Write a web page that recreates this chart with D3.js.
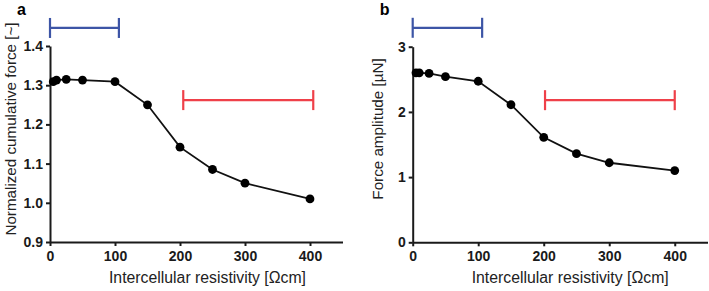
<!DOCTYPE html>
<html>
<head>
<meta charset="utf-8">
<script src="https://cdn.jsdelivr.net/npm/d3@7"></script>
<style>
  body { margin: 0; background: #fff; }
  svg { display: block; font-family: "Liberation Sans", Arial, sans-serif; }
  .tick text { font-weight: bold; font-size: 14px; fill: #1a1a1a; }
  .domain, .tick line { stroke: #1a1a1a; stroke-width: 2; }
</style>
</head>
<body>
<div class="chart"></div>
<script>
// shared x values (intercellular resistivity, Ωcm)
const resistivity = [5, 10, 25, 50, 100, 150, 200, 250, 300, 400]

// panel a: normalized cumulative force
const cumForce = [1.309, 1.313, 1.315, 1.313, 1.309, 1.250, 1.142, 1.085, 1.050, 1.010]
const cumForceTicks = [0.9, 1.0, 1.1, 1.2, 1.3, 1.4]
const cumForceRanges = [
    { from: 0, to: 106, level: 1.446, kind: 'blue' },
    { from: 205, to: 405, level: 1.262, kind: 'red' }
]

// panel b: force amplitude
const forceAmp = [2.60, 2.60, 2.59, 2.54, 2.47, 2.11, 1.61, 1.36, 1.22, 1.10]
const forceAmpTicks = [0, 1, 2, 3]
const forceAmpRanges = [
    { from: 0, to: 106, level: 3.29, kind: 'blue' },
    { from: 202, to: 400, level: 2.18, kind: 'red' }
]

const xTicks = [0, 100, 200, 300, 400]

const width = 709, height = 291
const rangeColor = { blue: '#3d55a6', red: '#ef4049' }

const svg = d3.select('.chart')
    .append('svg')
    .attr('width', width)
    .attr('height', height)

const drawPanel = ({ letter, values, yDomain, yTicks, yFormat, ranges, yTitle, left, right, top, bottom, titleX }) => {

    const g = svg.append('g')

    const x = d3.scaleLinear()
        .domain([0, 450])
        .range([left, right])

    const y = d3.scaleLinear()
        .domain(yDomain)
        .range([bottom, top])

    g.append('g')
        .attr('transform', `translate(0,${bottom})`)
        .call(d3.axisBottom(x).tickValues(xTicks).tickSize(4).tickSizeOuter(0).tickPadding(5))

    g.append('g')
        .attr('transform', `translate(${left},0)`)
        .call(d3.axisLeft(y).tickValues(yTicks).tickFormat(yFormat).tickSize(4).tickSizeOuter(0).tickPadding(3))

    // ranges drawn as horizontal brackets
    const rg = g.selectAll('.range')
        .data(ranges)
        .join('g')
        .attr('stroke', d => rangeColor[d.kind])
        .attr('stroke-width', 2.2)

    rg.append('line')
        .attr('x1', d => x(d.from)).attr('x2', d => x(d.to))
        .attr('y1', d => y(d.level)).attr('y2', d => y(d.level))
    rg.append('line')
        .attr('x1', d => x(d.from)).attr('x2', d => x(d.from))
        .attr('y1', d => y(d.level) - 10).attr('y2', d => y(d.level) + 10)
    rg.append('line')
        .attr('x1', d => x(d.to)).attr('x2', d => x(d.to))
        .attr('y1', d => y(d.level) - 10).attr('y2', d => y(d.level) + 10)

    const pts = resistivity.map((r, i) => [r, values[i]])

    g.append('path')
        .datum(pts)
        .attr('fill', 'none')
        .attr('stroke', '#111')
        .attr('stroke-width', 1.8)
        .attr('d', d3.line().x(d => x(d[0])).y(d => y(d[1])))

    g.selectAll('.dot')
        .data(pts)
        .join('circle')
        .attr('cx', d => x(d[0]))
        .attr('cy', d => y(d[1]))
        .attr('r', 4.4)
        .attr('fill', '#000')

    g.append('text')
        .attr('x', left + 157.5)
        .attr('y', 283)
        .attr('text-anchor', 'middle')
        .attr('font-size', 15.8)
        .attr('fill', '#222')
        .text('Intercellular resistivity [Ωcm]')

    g.append('text')
        .attr('transform', `translate(${titleX},129) rotate(-90)`)
        .attr('text-anchor', 'middle')
        .attr('font-size', 15.2)
        .attr('fill', '#222')
        .text(yTitle)

    g.append('text')
        .attr('x', left - 33)
        .attr('y', 15)
        .attr('font-size', 16)
        .attr('font-weight', 'bold')
        .text(letter)
}

drawPanel({
    letter: 'a', values: cumForce, yDomain: [0.9, 1.4], yTicks: cumForceTicks,
    yFormat: d3.format('.1f'), ranges: cumForceRanges,
    yTitle: 'Normalized cumulative force [~]',
    left: 50, right: 342.5, top: 46, bottom: 242, titleX: 16
})

drawPanel({
    letter: 'b', values: forceAmp, yDomain: [0, 3], yTicks: forceAmpTicks,
    yFormat: d3.format('d'), ranges: forceAmpRanges,
    yTitle: 'Force amplitude [µN]',
    left: 412.7, right: 707.5, top: 46.7, bottom: 242.3, titleX: 383
})
</script>
</body>
</html>
